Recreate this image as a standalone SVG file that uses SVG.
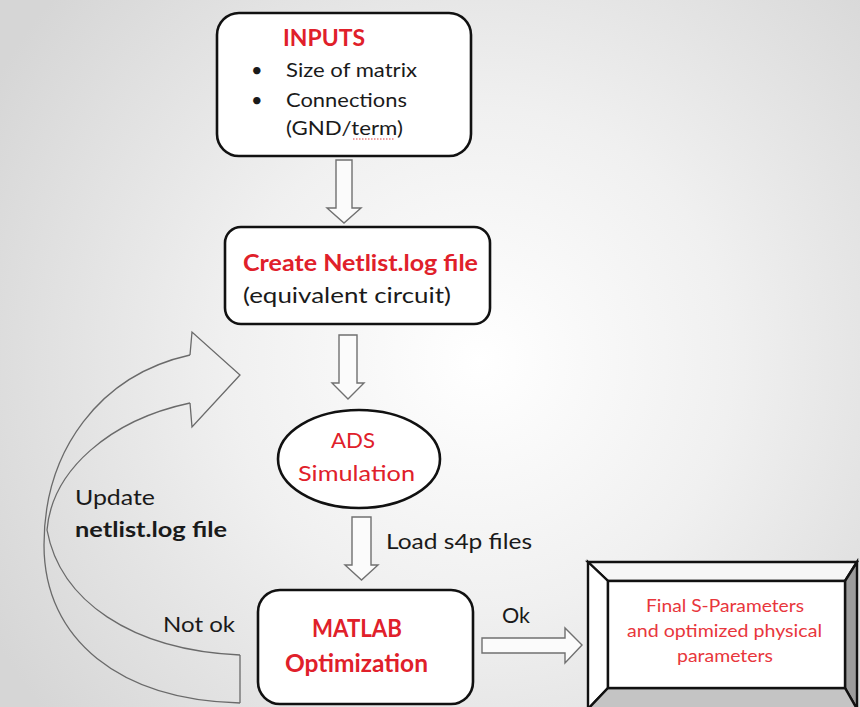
<svg xmlns="http://www.w3.org/2000/svg" width="860" height="707" viewBox="0 0 860 707">
<defs>
<radialGradient id="bg" cx="480" cy="360" r="560" gradientUnits="userSpaceOnUse">
<stop offset="0" stop-color="#ffffff"/>
<stop offset="0.45" stop-color="#f0f0f0"/>
<stop offset="1" stop-color="#d6d6d6"/>
</radialGradient>
<style>
.box{fill:#ffffff;stroke:#111111;stroke-width:2.6}
.blk{fill:#fbfbfb;stroke:#707070;stroke-width:1.4;stroke-linejoin:miter}
.loop{fill:none;stroke:#6a6a6a;stroke-width:1.3}
.t{font-family:Lato,"Open Sans","Liberation Sans",sans-serif;fill:#1a1a1a}
.r{fill:#e0202a}
.b{font-weight:bold}
.fr{fill:#e8363c}
.bev{stroke:#111111;stroke-width:2.4;stroke-linejoin:miter}
</style>
</defs>
<rect x="0" y="0" width="860" height="707" fill="url(#bg)"/>

<g id="connectors">
<polygon class="blk" points="336,160 352,160 352,208 361,208 344,223 327,208 336,208"/>
<polygon class="blk" points="339,335 357,335 357,383 364,383 348,399 332,383 339,383"/>
<polygon class="blk" points="352,517 371,517 371,565 378,565 361.5,580 345,565 352,565"/>
<polygon class="blk" points="482,638 565,638 565,628 582,645 565,663 565,653 482,653"/>
<g id="loop">
<path class="loop" d="M190 355 C100 375,44 450,44 545 C44 640,120 700,240 703"/>
<path class="loop" d="M190 403 C110 420,52 470,47 530 C60 600,130 650,240 655"/>
<polyline class="loop" points="190,355 192,332 240,375 192,427 190,403"/>
<line class="loop" x1="240" y1="655" x2="240" y2="703"/>
</g>
</g>

<g id="inputs">
<rect class="box" x="217" y="13" width="254" height="143" rx="22"/>
<text class="t r b" x="283" y="46" font-size="22" textLength="82" lengthAdjust="spacingAndGlyphs">INPUTS</text>
<text class="t" x="251" y="77" font-size="20">•</text>
<text class="t" x="286" y="77" font-size="20" textLength="131" lengthAdjust="spacingAndGlyphs">Size of matrix</text>
<text class="t" x="251" y="107" font-size="20">•</text>
<text class="t" x="286" y="107" font-size="20" textLength="121" lengthAdjust="spacingAndGlyphs">Connections</text>
<text class="t" x="286" y="135" font-size="20" textLength="117" lengthAdjust="spacingAndGlyphs">(GND/term)</text>
<line x1="353" y1="139" x2="395" y2="139" stroke="#e04040" stroke-width="1" stroke-dasharray="1.5,1.5"/>
</g>

<g id="netlist">
<rect class="box" x="225" y="227" width="265" height="97" rx="16"/>
<text class="t r b" x="243" y="271" font-size="22" textLength="235" lengthAdjust="spacingAndGlyphs">Create Netlist.log file</text>
<text class="t" x="243" y="303" font-size="21" textLength="208" lengthAdjust="spacingAndGlyphs">(equivalent circuit)</text>
</g>

<g id="ads">
<ellipse class="box" cx="359" cy="459" rx="81" ry="49"/>
<text class="t r" x="331" y="448" font-size="22" textLength="44" lengthAdjust="spacingAndGlyphs">ADS</text>
<text class="t r" x="298" y="481" font-size="22" textLength="117" lengthAdjust="spacingAndGlyphs">Simulation</text>
</g>

<text class="t" x="386" y="549" font-size="21" textLength="146" lengthAdjust="spacingAndGlyphs">Load s4p files</text>

<g id="matlab">
<rect class="box" x="258" y="590" width="215" height="114" rx="22"/>
<text class="t r b" x="312" y="637" font-size="24" textLength="90" lengthAdjust="spacingAndGlyphs">MATLAB</text>
<text class="t r b" x="285" y="672" font-size="24" textLength="143" lengthAdjust="spacingAndGlyphs">Optimization</text>
</g>

<text class="t" x="502" y="623" font-size="21" textLength="28" lengthAdjust="spacingAndGlyphs">Ok</text>
<text class="t" x="75" y="505" font-size="21" textLength="80" lengthAdjust="spacingAndGlyphs">Update</text>
<text class="t b" x="75" y="537" font-size="21" textLength="152" lengthAdjust="spacingAndGlyphs">netlist.log file</text>
<text class="t" x="163" y="632" font-size="21" textLength="72" lengthAdjust="spacingAndGlyphs">Not ok</text>

<g id="final">
<polygon class="bev" fill="#f6f6f6" points="588,562 857,562 845,581 608,581"/>
<polygon class="bev" fill="#ffffff" points="588,562 608,581 608,688 588,709"/>
<polygon class="bev" fill="#9c9c9c" points="857,562 857,709 845,688 845,581"/>
<polygon class="bev" fill="#c4c4c4" points="588,709 608,688 845,688 857,709"/>
<rect class="bev" fill="#ffffff" x="608" y="581" width="237" height="107"/>
<text class="t fr" x="646" y="612" font-size="17" textLength="158" lengthAdjust="spacingAndGlyphs">Final S-Parameters</text>
<text class="t fr" x="627" y="637" font-size="17" textLength="195" lengthAdjust="spacingAndGlyphs">and optimized physical</text>
<text class="t fr" x="677" y="662" font-size="17" textLength="96" lengthAdjust="spacingAndGlyphs">parameters</text>
</g>
</svg>
